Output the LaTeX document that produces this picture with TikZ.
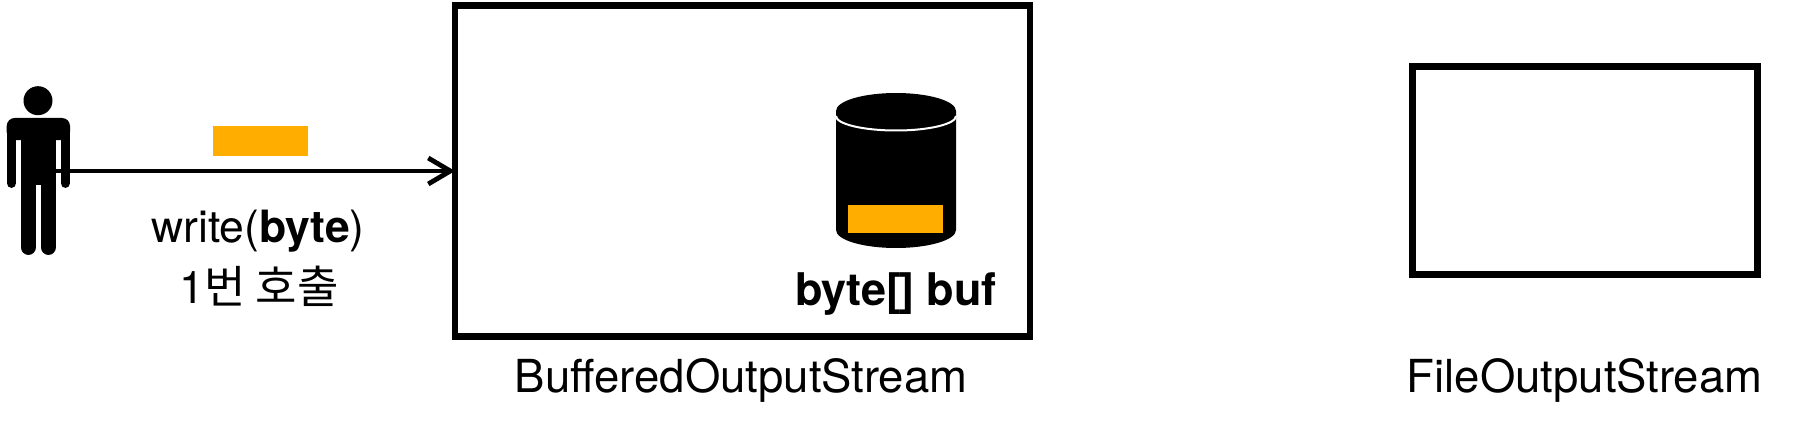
\documentclass[tikz,border=0pt]{standalone}
\usepackage{fontspec}
\setmainfont{TeX Gyre Heros}
\newfontfamily\krfont{Noto Sans CJK KR}
\usetikzlibrary{arrows.meta}
\definecolor{amber}{HTML}{FFAE00}
\tikzset{
  x=1pt,y=-1pt,
  boxbig/.style={draw=black,line width=6.8pt,fill=white,inner sep=0pt,outer sep=0pt,rectangle},
  chip/.style={fill=amber,draw=none,inner sep=0pt,outer sep=0pt,rectangle},
  label/.style={inner sep=0pt,outer sep=0pt,anchor=base,black},
  flow/.style={line width=4.6pt,draw=black,-{Straight Barb[length=22pt,width=26pt,line width=4.8pt]}},
  limb/.style={draw=black,line cap=round},
}
\begin{document}
\begin{tikzpicture}
\useasboundingbox (0,0) rectangle (1806,425);
% person
\fill[black] (38,100.7) circle (14.5);
\fill[black,rounded corners=8pt] (6.7,140) -- (6.7,118) -- (70,118) -- (70,140) -- cycle;
\fill[black] (6.7,130) rectangle (16.2,140);
\fill[black] (60.5,130) rectangle (70,140);
\fill[black] (20.7,125) rectangle (56,185);
\draw[limb,line width=9.5pt] (11.45,135) -- (11.45,183.2);
\draw[limb,line width=9.5pt] (65.25,135) -- (65.25,183.2);
\draw[limb,line width=15.3pt] (28.35,180) -- (28.35,247.3);
\draw[limb,line width=15.3pt] (48.35,180) -- (48.35,247.3);
\coordinate (start) at (56,171);
% boxes
\node[boxbig,minimum width=575pt,minimum height=331pt] (buffered) at (742.5,171) {};
\node[boxbig,minimum width=345.3pt,minimum height=207.5pt] (file) at (1584.8,170.5) {};
% connector
\draw[flow] (start) -- (buffered.west);
% chip over the arrow
\node[chip,minimum width=95pt,minimum height=30pt] (chipa) at (260.5,141) {};
% cylinder
\fill[black] (836,111) -- (836,230) arc[start angle=180,end angle=0,x radius=60,y radius=18] -- (956,111) -- cycle;
\fill[black] (896,111) ellipse[x radius=60,y radius=18];
\draw[white,line width=2pt] (836,116) arc[start angle=180,end angle=0,x radius=60,y radius=14.5];
\node[chip,minimum width=95pt,minimum height=28pt] (chipb) at (895.5,219) {};
% labels
\node[label,font=\fontsize{44.5}{44.5}\selectfont] (writelabel) at (258,242) {write(\textbf{byte})};
\node[label,font=\fontsize{45}{45}\selectfont] (calllabel) at (259,303) {1\krfont 번 호출};
\node[label,font=\bfseries\fontsize{45}{45}\selectfont] (buflabel) at (896,305) {byte[\kern-2.5pt] buf};
\node[label,font=\fontsize{45.5}{45.5}\selectfont] (bufferedlabel) at (741,392) {BufferedOutputStream};
\node[label,font=\fontsize{45.5}{45.5}\selectfont] (filelabel) at (1584.5,392) {FileOutputStream};
\end{tikzpicture}
\end{document}
